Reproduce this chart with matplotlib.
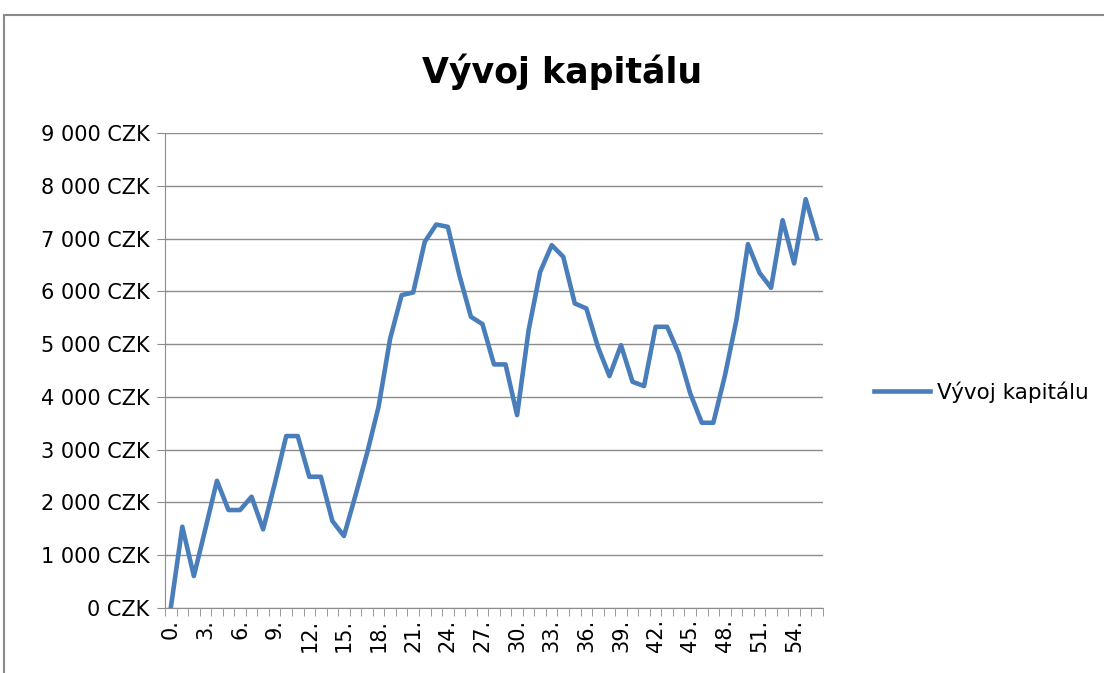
import numpy as np
import matplotlib.pyplot as plt
from matplotlib.patches import Rectangle
from matplotlib.ticker import FuncFormatter

plt.rcParams['font.family'] = ['DejaVu Sans']

# Data
title = "Vývoj kapitálu"
series_name = "Vývoj kapitálu"
capital = [0, 1540, 606, 1500, 2411, 1856, 1856, 2108, 1490, 2348,
           3258, 3258, 2487, 2487, 1648, 1364, 2134, 2929, 3813, 5100,
           5928, 5979, 6938, 7266, 7222, 6307, 5518, 5379, 4615, 4615,
           3655, 5265, 6370, 6875, 6654, 5770, 5676, 4949, 4394, 4981,
           4286, 4205, 5328, 5328, 4823, 4066, 3510, 3510, 4400, 5455,
           6894, 6351, 6067, 7348, 6528, 7746, 7002]
x_labels = [f"{i}." for i in range(len(capital))]
y_ticks = [0, 1000, 2000, 3000, 4000, 5000, 6000, 7000, 8000, 9000]

W, H = 1104, 673
fig = plt.figure(figsize=(W / 100, H / 100), dpi=100)
ax = fig.add_axes([165 / W, 1 - 608 / H, (823 - 165) / W, (608 - 133) / H])

# outer chart frame (cut off at right and bottom)
fig.patches.append(Rectangle((4 / W, -0.1), 1.2, 1 - 15 / H + 0.1,
                             transform=fig.transFigure, fill=False,
                             edgecolor='#8a8a8a', linewidth=1.5))

x = np.arange(len(capital))
ax.plot(x, capital, color='#4a7ebb', linewidth=3.3, label=series_name,
        solid_joinstyle='round')

ax.set_xlim(-0.5, len(capital) - 0.5)
ax.set_ylim(0, 9000)
ax.set_yticks(y_ticks)
ax.yaxis.set_major_formatter(FuncFormatter(lambda v, p: f"{int(v):,} CZK".replace(",", " ")))
ax.grid(axis='y', color='#8c8c8c', linewidth=1.0)
ax.set_axisbelow(True)

ax.set_xticks(x[::3])
ax.set_xticklabels(x_labels[::3], rotation=90)
ax.set_xticks(np.arange(-0.5, len(capital)), minor=True)
ax.tick_params(axis='x', which='major', length=0, labelsize=15, pad=8)
ax.tick_params(axis='x', which='minor', length=6, color='#8c8c8c')
ax.tick_params(axis='y', length=6, color='#8c8c8c', labelsize=15, pad=5)

for s in ['top', 'right']:
    ax.spines[s].set_visible(False)
for s in ['left', 'bottom']:
    ax.spines[s].set_color('#8c8c8c')

fig.text(562 / W, 1 - 72 / H, title, ha='center', va='center',
         fontsize=25, fontweight='bold')

fig.legend(loc='center left', bbox_to_anchor=(855 / W, 1 - 392 / H),
           frameon=False, fontsize=15.5, handlelength=2.6, handletextpad=0.3)

fig.savefig("out.png", dpi=100)
